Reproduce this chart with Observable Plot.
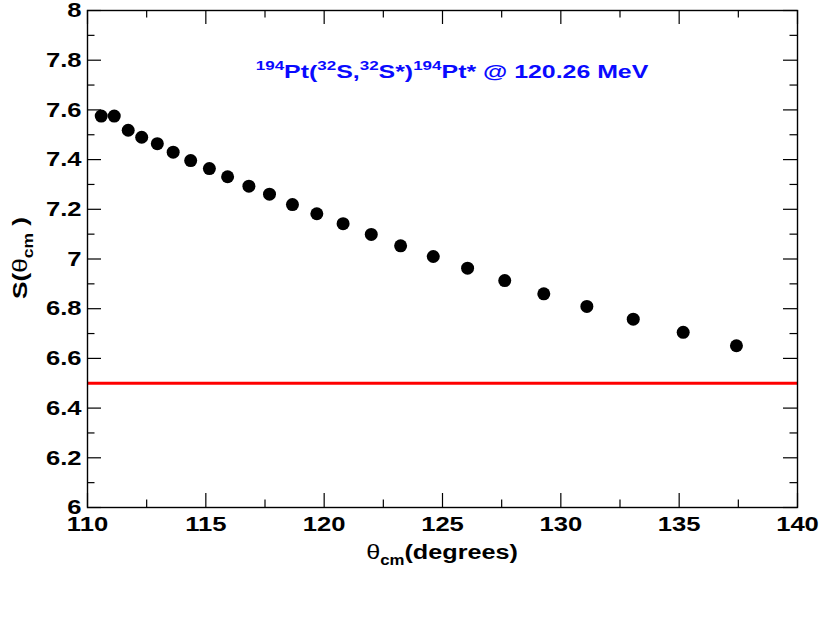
<!DOCTYPE html>
<html>
<head>
<meta charset="utf-8">
<script src="https://cdn.jsdelivr.net/npm/d3@7"></script>
<script src="https://cdn.jsdelivr.net/npm/@observablehq/plot@0.6"></script>
<style>
  body { margin: 0; background: #fff; }
  #chart svg { display: block; overflow: visible; }
</style>
</head>
<body>
<div id="chart"></div>
<script>
// Sensitivity S(theta_cm) versus centre-of-mass angle
const thetaCm = [110.58, 111.13, 111.72, 112.29, 112.95, 113.62, 114.36, 115.15,
                 115.92, 116.82, 117.69, 118.66, 119.69, 120.80, 121.99, 123.23,
                 124.61, 126.06, 127.63, 129.28, 131.10, 133.06, 135.17, 137.42];
const sValues = [7.575, 7.575, 7.518, 7.490, 7.464, 7.430, 7.396, 7.364,
                 7.331, 7.293, 7.261, 7.219, 7.182, 7.142, 7.099, 7.053,
                 7.010, 6.963, 6.913, 6.860, 6.809, 6.758, 6.705, 6.651];
const thresholdLevel = [6.5];

const xTickLabels = [110, 115, 120, 125, 130, 135, 140];
const xMinorTicks = [112.5, 117.5, 122.5, 127.5, 132.5, 137.5];
const yTickLabels = [6, 6.2, 6.4, 6.6, 6.8, 7, 7.2, 7.4, 7.6, 7.8, 8];
const yMinorTicks = [6.1, 6.3, 6.5, 6.7, 6.9, 7.1, 7.3, 7.5, 7.7, 7.9];

const points = thetaCm.map((x, i) => ({x, y: sValues[i]}));

const W = 820, H = 619;
const mT = 10, mB = 112, mL = 87, mR = 23;
const innerW = W - mL - mR, innerH = H - mT - mB;
const major = 14, minor = 7.5;
const wide = 1.22; // horizontal stretch of the bold lettering

const chart = Plot.plot({
  width: W,
  height: H,
  marginTop: mT,
  marginBottom: mB,
  marginLeft: mL,
  marginRight: mR,
  style: {fontFamily: "'Liberation Sans', Arial, sans-serif", fontSize: "21px", fontWeight: "bold", color: "#000", background: "#fff", overflow: "visible"},
  x: {domain: [110, 140]},
  y: {domain: [6, 8]},
  marks: [
    // inward ticks on all four sides
    Plot.ruleX(xTickLabels, {insetTop: innerH - major, stroke: "#000", strokeWidth: 1.2}),
    Plot.ruleX(xTickLabels, {insetBottom: innerH - major, stroke: "#000", strokeWidth: 1.2}),
    Plot.ruleX(xMinorTicks, {insetTop: innerH - minor, stroke: "#000", strokeWidth: 1.2}),
    Plot.ruleX(xMinorTicks, {insetBottom: innerH - minor, stroke: "#000", strokeWidth: 1.2}),
    Plot.ruleY(yTickLabels, {insetRight: innerW - major, stroke: "#000", strokeWidth: 1.2}),
    Plot.ruleY(yTickLabels, {insetLeft: innerW - major, stroke: "#000", strokeWidth: 1.2}),
    Plot.ruleY(yMinorTicks, {insetRight: innerW - minor, stroke: "#000", strokeWidth: 1.2}),
    Plot.ruleY(yMinorTicks, {insetLeft: innerW - minor, stroke: "#000", strokeWidth: 1.2}),
    Plot.axisX({ticks: xTickLabels, tickSize: 0, tickPadding: 9, tickFormat: d => String(d), label: null}),
    Plot.axisY({ticks: yTickLabels, tickSize: 0, tickPadding: 6, tickFormat: d => String(+d.toFixed(1)), label: null}),
    Plot.ruleY(thresholdLevel, {stroke: "#ff0000", strokeWidth: 3}),
    Plot.dot(points, {x: "x", y: "y", r: 6.5, fill: "#000", stroke: "none"}),
    Plot.frame({stroke: "#000", strokeWidth: 1.4})
  ]
});

document.getElementById("chart").appendChild(chart);

const svg = d3.select(chart);
const font = "'Liberation Sans', Arial, sans-serif";

// widen the tick labels about their anchor points
svg.selectAll("text").each(function () {
  const t = this.getAttribute("transform") || "";
  this.setAttribute("transform", `${t} scale(${wide},1)`);
});

// Reaction annotation with superscripted mass numbers
const title = svg.append("text")
  .attr("transform", "translate(452,78) scale(1.31,1)")
  .attr("text-anchor", "middle")
  .attr("fill", "#0a0aff")
  .attr("font-family", font)
  .attr("font-weight", "bold")
  .attr("font-size", 19);
const parts = [
  ["194", true], ["Pt(", false], ["32", true], ["S,", false],
  ["32", true], ["S*)", false], ["194", true], ["Pt* @ 120.26 MeV", false]
];
let raised = false;
for (const [txt, sup] of parts) {
  const ts = title.append("tspan").text(txt);
  if (sup) {
    ts.attr("font-size", 13).attr("dy", raised ? 0 : -8);
    raised = true;
  } else {
    ts.attr("dy", raised ? 8 : 0);
    raised = false;
  }
}

// x axis title: theta_cm(degrees)
const xt = svg.append("text")
  .attr("transform", "translate(442,559) scale(1.2,1)")
  .attr("text-anchor", "middle")
  .attr("fill", "#000")
  .attr("font-family", font)
  .attr("font-weight", "bold")
  .attr("font-size", 21);
xt.append("tspan").attr("font-weight", "normal").text("θ");
xt.append("tspan").attr("font-size", 14).attr("dy", 6).text("cm");
xt.append("tspan").attr("dy", -6).text("(degrees)");

// y axis title: S(theta_cm)
const yt = svg.append("text")
  .attr("transform", "translate(27,258) rotate(-90) scale(1.25,1)")
  .attr("text-anchor", "middle")
  .attr("fill", "#000")
  .attr("font-family", font)
  .attr("font-weight", "bold")
  .attr("font-size", 21);
yt.append("tspan").text("S(");
yt.append("tspan").attr("font-weight", "normal").text("θ");
yt.append("tspan").attr("font-size", 14).attr("dy", 6).text("cm");
yt.append("tspan").attr("dy", -6).text(" )");
</script>
</body>
</html>
